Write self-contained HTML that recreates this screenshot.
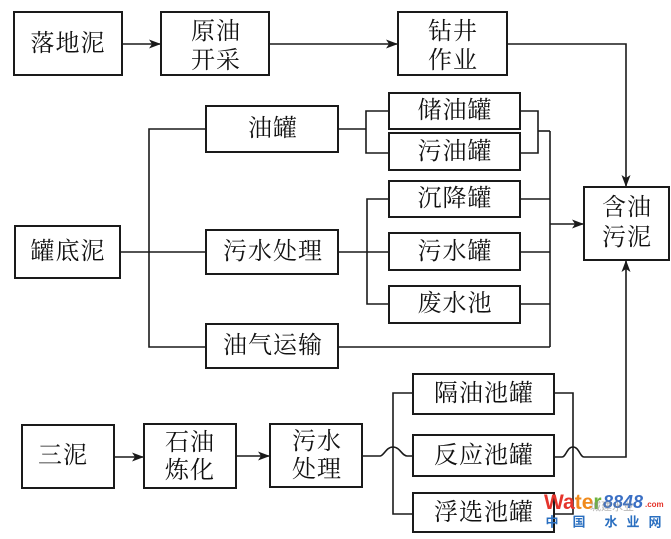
<!DOCTYPE html>
<html>
<head>
<meta charset="utf-8">
<style>
html,body{margin:0;padding:0;background:#fff;}
svg{display:block;}
.b{fill:#fff;stroke:#1a1a1a;stroke-width:2;}
.l{fill:none;stroke:#1a1a1a;stroke-width:1.6;}
.t{font-family:"Liberation Serif","Noto Serif CJK SC",serif;font-size:24px;fill:#111;text-anchor:middle;dominant-baseline:central;letter-spacing:1px;}
</style>
</head>
<body>
<svg width="671" height="539" viewBox="0 0 671 539" xmlns="http://www.w3.org/2000/svg">
<defs>
<marker id="a" markerUnits="userSpaceOnUse" markerWidth="12" markerHeight="9" viewBox="0 0 12 9" refX="12" refY="4.5" orient="auto">
<path d="M0,0 L12,4.5 L0,9 L3,4.5 z" fill="#1a1a1a"/>
</marker>
</defs>

<!-- connectors -->
<line class="l" x1="122" y1="44" x2="161" y2="44" marker-end="url(#a)"/>
<line class="l" x1="269" y1="44" x2="398" y2="44" marker-end="url(#a)"/>
<polyline class="l" points="507,44 626,44 626,187" marker-end="url(#a)"/>

<!-- 罐底泥 branches -->
<line class="l" x1="120" y1="252" x2="206" y2="252"/>
<polyline class="l" points="206,129 149,129 149,347 206,347"/>

<!-- 油罐 bracket -->
<line class="l" x1="338" y1="129" x2="366" y2="129"/>
<polyline class="l" points="389,111 366,111 366,153 389,153"/>
<polyline class="l" points="520,111 538,111 538,153 520,153"/>
<line class="l" x1="538" y1="131" x2="550" y2="131"/>

<!-- 污水处理 bracket -->
<line class="l" x1="338" y1="252" x2="367" y2="252"/>
<polyline class="l" points="389,199 367,199 367,304 389,304"/>
<line class="l" x1="367" y1="252" x2="389" y2="252"/>
<line class="l" x1="520" y1="199" x2="550" y2="199"/>
<line class="l" x1="520" y1="252" x2="550" y2="252"/>
<line class="l" x1="520" y1="304" x2="550" y2="304"/>
<line class="l" x1="550" y1="131" x2="550" y2="347"/>
<line class="l" x1="338" y1="347" x2="550" y2="347"/>
<line class="l" x1="550" y1="224" x2="584" y2="224" marker-end="url(#a)"/>

<!-- bottom row -->
<line class="l" x1="114" y1="457" x2="144" y2="457" marker-end="url(#a)"/>
<line class="l" x1="236" y1="456" x2="270" y2="456" marker-end="url(#a)"/>
<path class="l" d="M362,456 L380,456 C384,456 386,447 393,447 C400,447 402,456 407,456 L413,456"/>
<polyline class="l" points="413,393 393,393 393,514 413,514"/>
<polyline class="l" points="554,393 573,393 573,514 554,514"/>
<path class="l" d="M554,457 L562,457 C566,457 567,447 573,447 C579,447 580,457 584,457 L626,457 L626,260" marker-end="url(#a)"/>

<!-- boxes -->
<rect class="b" x="14" y="12" width="108" height="63"/>
<rect class="b" x="161" y="12" width="108" height="63"/>
<rect class="b" x="398" y="12" width="109" height="63"/>
<rect class="b" x="206" y="106" width="132" height="46"/>
<rect class="b" x="389" y="93" width="131" height="36"/>
<rect class="b" x="389" y="133" width="131" height="37"/>
<rect class="b" x="389" y="181" width="131" height="36"/>
<rect class="b" x="389" y="233" width="131" height="37"/>
<rect class="b" x="389" y="286" width="131" height="37"/>
<rect class="b" x="15" y="226" width="105" height="52"/>
<rect class="b" x="206" y="230" width="132" height="44"/>
<rect class="b" x="206" y="324" width="132" height="44"/>
<rect class="b" x="584" y="187" width="85" height="73"/>
<rect class="b" x="22" y="425" width="92" height="63"/>
<rect class="b" x="144" y="424" width="92" height="64"/>
<rect class="b" x="270" y="424" width="92" height="63"/>
<rect class="b" x="413" y="374" width="141" height="40"/>
<rect class="b" x="413" y="435" width="141" height="41"/>
<rect class="b" x="413" y="493" width="141" height="39"/>

<!-- labels -->
<text class="t" x="68" y="44">落地泥</text>
<text class="t" x="216" y="32">原油</text>
<text class="t" x="216" y="61">开采</text>
<text class="t" x="453" y="32">钻井</text>
<text class="t" x="453" y="61">作业</text>
<text class="t" x="273" y="129">油罐</text>
<text class="t" x="455" y="111">储油罐</text>
<text class="t" x="455" y="152">污油罐</text>
<text class="t" x="455" y="199">沉降罐</text>
<text class="t" x="455" y="252">污水罐</text>
<text class="t" x="455" y="304">废水池</text>
<text class="t" x="68" y="252">罐底泥</text>
<text class="t" x="273" y="252">污水处理</text>
<text class="t" x="273" y="346">油气运输</text>
<text class="t" x="627" y="208">含油</text>
<text class="t" x="627" y="238">污泥</text>
<text class="t" x="63" y="456">三泥</text>
<text class="t" x="190" y="443">石油</text>
<text class="t" x="190" y="471">炼化</text>
<text class="t" x="317" y="442">污水</text>
<text class="t" x="317" y="470">处理</text>
<text class="t" x="484" y="394">隔油池罐</text>
<text class="t" x="484" y="456">反应池罐</text>
<text class="t" x="484" y="513">浮选池罐</text>

<!-- watermark -->
<g font-family="Liberation Sans, sans-serif" font-weight="bold">
<text x="544" y="509" font-size="21"><tspan fill="#e5342b">Wa</tspan><tspan fill="#f08a1c">te</tspan><tspan fill="#6cb33e">r</tspan></text>
<text x="603" y="508" font-size="18" font-style="italic" fill="#3a6fc4">8848</text>
<text x="645" y="507" font-size="8" fill="#e5342b">.com</text>
</g>
<text x="590" y="510" font-size="11" fill="#888" opacity="0.6" font-family="Liberation Sans, Noto Sans CJK SC, sans-serif">城建水业</text>
<g font-family="Liberation Sans, Noto Sans CJK SC, sans-serif" font-size="13" font-weight="bold" fill="#2a6fc0" text-anchor="middle" dominant-baseline="central">
<text x="552" y="522">中</text>
<text x="579" y="522">国</text>
<text x="611" y="522">水</text>
<text x="633" y="522">业</text>
<text x="655" y="522">网</text>
</g>
</svg>
</body>
</html>
